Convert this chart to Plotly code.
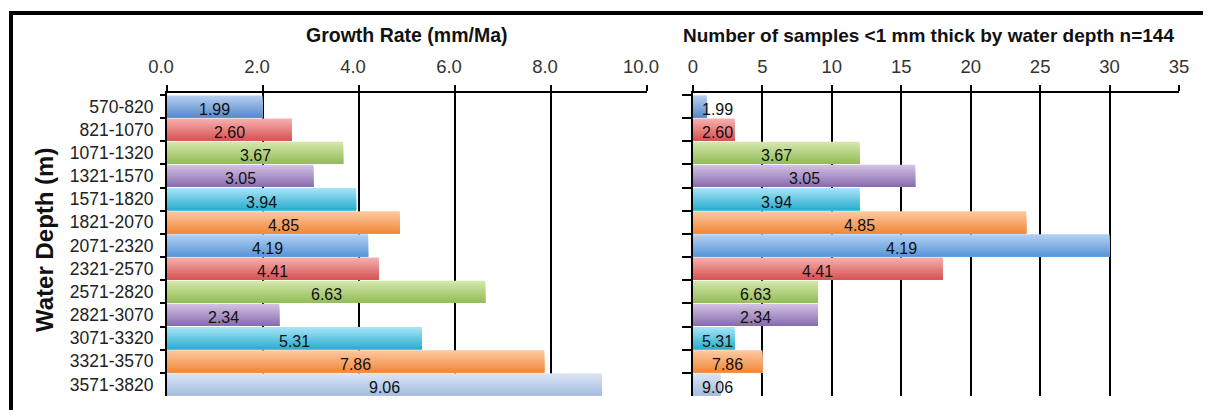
import plotly.graph_objects as go

# ---------------- data ----------------
depth_bins = ["570-820", "821-1070", "1071-1320", "1321-1570", "1571-1820",
              "1821-2070", "2071-2320", "2321-2570", "2571-2820", "2821-3070",
              "3071-3320", "3321-3570", "3571-3820"]
growth_rate = [1.99, 2.60, 3.67, 3.05, 3.94, 4.85, 4.19, 4.41, 6.63, 2.34, 5.31, 7.86, 9.06]
sample_count = [1, 3, 12, 16, 12, 24, 30, 18, 9, 9, 3, 5, 2]
growth_label = ["1.99", "2.60", "3.67", "3.05", "3.94", "4.85", "4.19",
                "4.41", "6.63", "2.34", "5.31", "7.86", "9.06"]
growth_ticks = [0, 2, 4, 6, 8, 10]
growth_tick_text = ["0.0", "2.0", "4.0", "6.0", "8.0", "10.0"]
count_ticks = [0, 5, 10, 15, 20, 25, 30, 35]
count_tick_text = ["0", "5", "10", "15", "20", "25", "30", "35"]

left_title = "Growth Rate (mm/Ma)"
right_title = "Number of samples <1 mm thick by water depth n=144"
y_title = "Water Depth (m)"

# gradient colours per row (top -> bottom of each bar)
top_colors = ["#b4cdee", "#f6acac", "#d2e6a8", "#d0bfe2", "#a2e2f4", "#fcc89e",
              "#b0cff2", "#f6acac", "#d2e6a8", "#d0bfe2", "#a2e2f4", "#fcc89e", "#d8e4f4"]
bot_colors = ["#5a8ccc", "#d85656", "#96be5c", "#8a6eb0", "#2eb0d2", "#f28a3e",
              "#5c98da", "#d85656", "#96be5c", "#8a6eb0", "#2eb0d2", "#f28a3e", "#a6bee0"]

W, H = 1211, 410
PAGE_OFF = 8  # default page margin of the html body
FONT = "Arial, 'Liberation Sans', sans-serif"


def px_x(p):
    return (p - PAGE_OFF) / W


def px_y(p):
    return 1 - (p - PAGE_OFF) / H


def mix(c1, c2, t):
    a = [int(c1[i:i + 2], 16) for i in (1, 3, 5)]
    b = [int(c2[i:i + 2], 16) for i in (1, 3, 5)]
    return "#%02x%02x%02x" % tuple(round(a[k] + (b[k] - a[k]) * t) for k in range(3))


fig = go.Figure()

N = 10
BW = 0.96


def add_bars(values, xa, ya):
    for s in range(N):
        t = s / (N - 1)
        fig.add_trace(go.Bar(
            y=depth_bins, x=values, orientation="h",
            offset=-BW / 2 + s * BW / N, width=BW - s * BW / N,
            marker=dict(color=[mix(top_colors[i], bot_colors[i], t) for i in range(len(values))],
                        line=dict(width=0)),
            xaxis=xa, yaxis=ya, hoverinfo="skip", showlegend=False))


add_bars(growth_rate, "x", "y")
add_bars(sample_count, "x2", "y2")

annotations = []
for i, cat in enumerate(depth_bins):
    annotations.append(dict(x=growth_rate[i] / 2, y=cat, xref="x", yref="y",
                            text=growth_label[i], showarrow=False, yshift=-3,
                            font=dict(family=FONT, size=16, color="#111")))
    annotations.append(dict(x=max(sample_count[i] / 2, 1.75), y=cat, xref="x2", yref="y2",
                            text=growth_label[i], showarrow=False, yshift=-3,
                            font=dict(family=FONT, size=16, color="#111")))

annotations += [
    dict(x=px_x(407), y=px_y(35), xref="paper", yref="paper", text="<b>%s</b>" % left_title,
         showarrow=False, xanchor="center", yanchor="middle",
         font=dict(family=FONT, size=19.5, color="#111")),
    dict(x=px_x(928), y=px_y(35), xref="paper", yref="paper", text="<b>%s</b>" % right_title,
         showarrow=False, xanchor="center", yanchor="middle",
         font=dict(family=FONT, size=19, color="#111")),
    dict(x=px_x(45), y=px_y(240), xref="paper", yref="paper", text="<b>%s</b>" % y_title,
         showarrow=False, textangle=-90, xanchor="center", yanchor="middle",
         font=dict(family=FONT, size=24, color="#111")),
]

xcommon = dict(side="top", showgrid=True, gridcolor="black", gridwidth=2,
               showline=True, linecolor="black", linewidth=2, zeroline=False,
               ticks="outside", ticklen=6, tickwidth=2, tickcolor="black",
               tickfont=dict(family=FONT, size=18.5, color="#333"), ticklabelstandoff=5,
               fixedrange=True, automargin=False)
ycommon = dict(type="category", autorange="reversed", showgrid=False, zeroline=False,
               showline=True, linecolor="black", linewidth=2,
               ticks="outside", tickson="boundaries", tickwidth=2, tickcolor="black",
               domain=[px_y(396), px_y(93)], fixedrange=True, automargin=False)

fig.update_layout(
    width=W, height=H, margin=dict(l=0, r=0, t=0, b=0, autoexpand=False),
    paper_bgcolor="white", plot_bgcolor="white",
    barmode="overlay", bargap=0.04,
    xaxis=dict(domain=[px_x(167), px_x(647)], range=[0, 10], tickvals=growth_ticks,
               ticktext=growth_tick_text, anchor="y", ticklabelshift=-6, **xcommon),
    xaxis2=dict(domain=[px_x(693), px_x(1179)], range=[0, 35], tickvals=count_ticks,
                ticktext=count_tick_text, anchor="y2", **xcommon),
    yaxis=dict(anchor="x", ticklen=5, showticklabels=True, ticklabelstandoff=8,
               tickfont=dict(family=FONT, size=17.5, color="#222"), **ycommon),
    yaxis2=dict(anchor="x2", ticklen=9, showticklabels=False, **ycommon),
    annotations=annotations,
    shapes=[dict(type="rect", xref="paper", yref="paper",
                 x0=px_x(11), x1=1.02, y0=-0.05, y1=px_y(13),
                 line=dict(color="black", width=4), fillcolor="rgba(0,0,0,0)", layer="above")],
    font=dict(family=FONT),
)

fig.write_html("out.html")
